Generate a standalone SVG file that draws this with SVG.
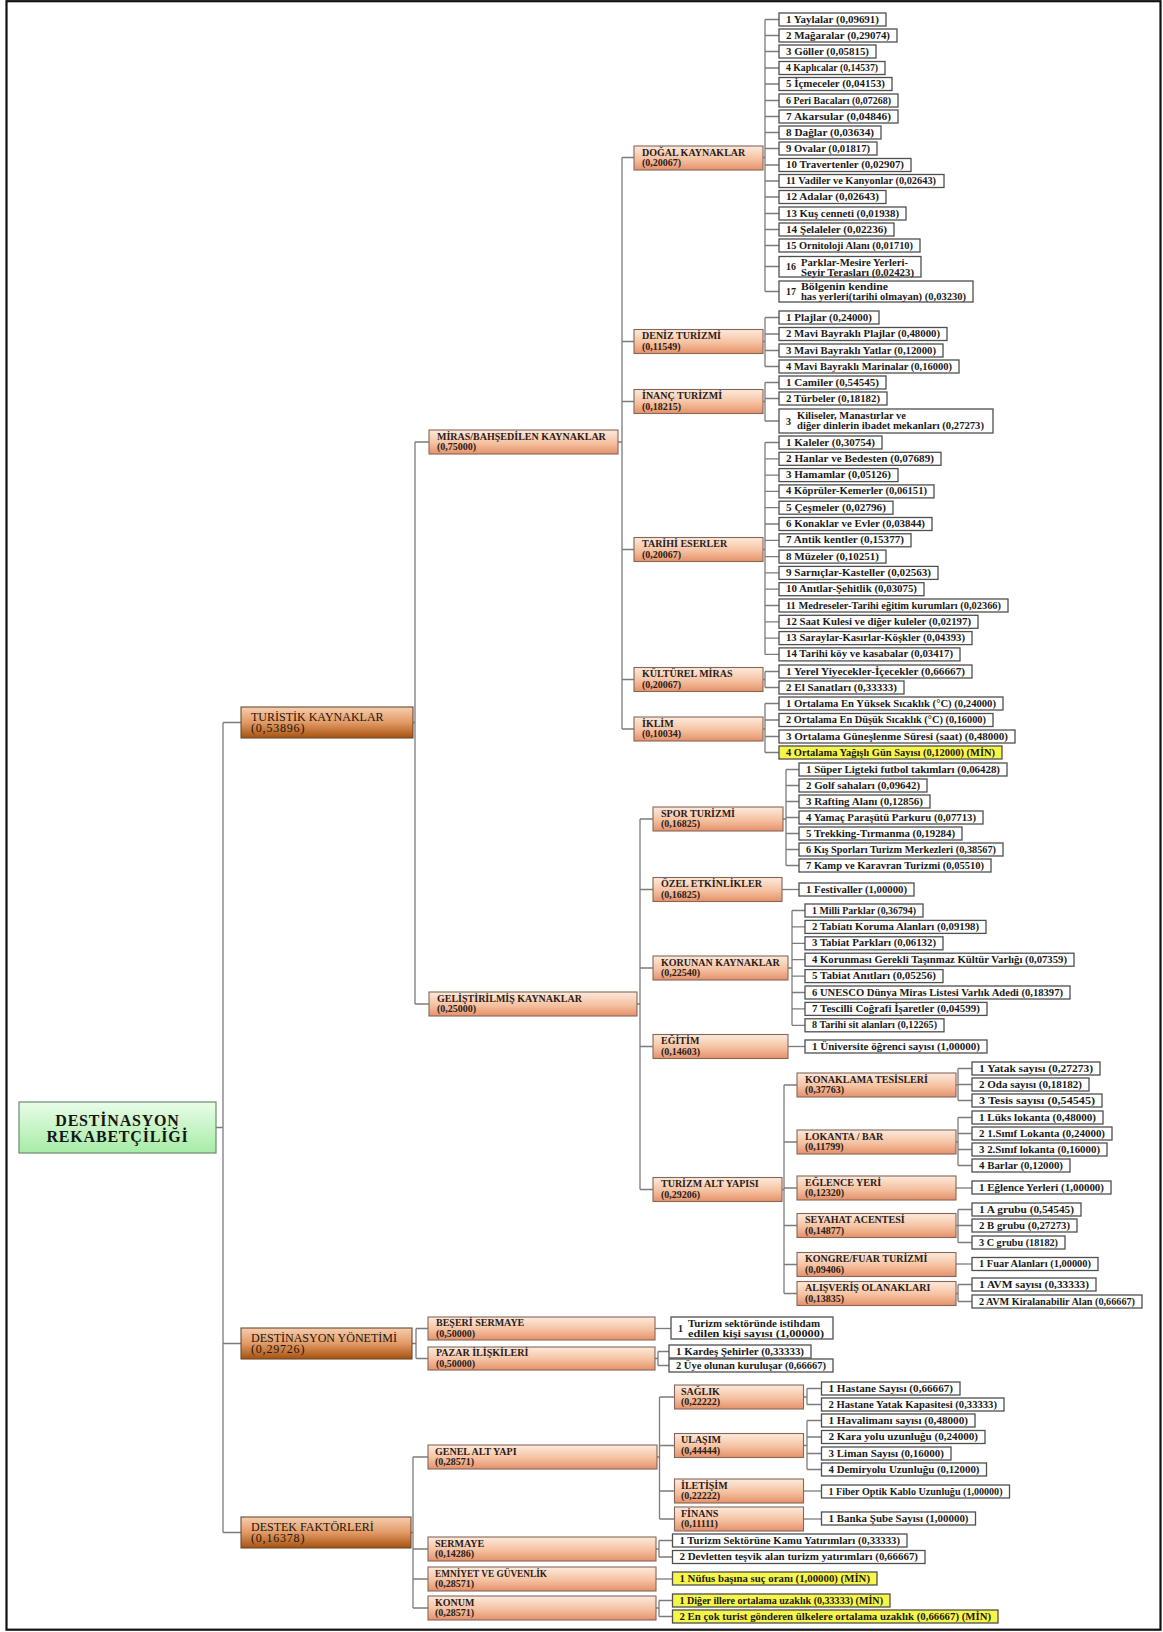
<svg xmlns="http://www.w3.org/2000/svg" width="1163" height="1632" viewBox="0 0 1163 1632" xml:space="preserve">
<defs>
<linearGradient id="gMid" x1="0" y1="0" x2="0" y2="1"><stop offset="0" stop-color="#fdeadc"/><stop offset="0.55" stop-color="#f5c1a0"/><stop offset="1" stop-color="#e5916a"/></linearGradient>
<linearGradient id="gTop" x1="0" y1="0" x2="0" y2="1"><stop offset="0" stop-color="#f6cdae"/><stop offset="0.5" stop-color="#e29a66"/><stop offset="1" stop-color="#a6520f"/></linearGradient>
<linearGradient id="gRoot" x1="0" y1="0" x2="0" y2="1"><stop offset="0" stop-color="#e8fde8"/><stop offset="1" stop-color="#a6eca6"/></linearGradient>
</defs>
<style>
text{font-family:"Liberation Serif","Times New Roman",serif;fill:#1c1a18}
.leaf rect{fill:#fff;stroke:#4f4f4f;stroke-width:1.3}
.leaf.min rect{fill:#f6f54a}
.leaf text{font-size:10px;font-weight:bold}
.mid rect{fill:url(#gMid);stroke:#86675a;stroke-width:1.1}
.mid text{font-size:10px;font-weight:bold;fill:#2a2019}
.top rect{fill:url(#gTop);stroke:#6b4a30;stroke-width:1.1}
.top text{font-size:12px;fill:#24160c}
.top text.w{letter-spacing:0.8px}
.root rect{fill:url(#gRoot);stroke:#6f8a6f;stroke-width:1.2}
.root text{font-size:16px;font-weight:bold;text-anchor:middle;letter-spacing:0.8px;fill:#161616}
.conn{fill:none;stroke:#7c7c7c;stroke-width:1.3}
</style>
<rect x="0" y="0" width="1163" height="1632" fill="#fff"/>
<rect x="6.5" y="1.2" width="1154" height="1628.5" fill="none" stroke="#111" stroke-width="2.2"/>

<g id="connectors" class="conn">
<path d="M216 1127.5H223M223 722.5V1532.5M223 722.5H241M223 1343.5H241M223 1532.5H241"/>
<path d="M413 722.5H415M415 442V1004M415 442H429M415 1004H429"/>
<path d="M618 442H622M622 157.5V729M622 157.5H634M622 341.5H634M622 401.5H634M622 549.5H634M622 679.5H634M622 729H634"/>
<path d="M637 1004H640M640 819V1189.5M640 819H653M640 889.5H653M640 968H653M640 1046.5H653M640 1189.5H653"/>
<path d="M763 157.5H765M765 19.5V291.5M765 19.5H779M765 35.5H779M765 51.5H779M765 68H779M765 84H779M765 100.5H779M765 116.5H779M765 132.5H779M765 148.5H779M765 165H779M765 181H779M765 197H779M765 213.5H779M765 229.5H779M765 245.5H779M765 266.5H779M765 291.5H779"/>
<path d="M763 341.5H765M765 317.5V366.5M765 317.5H779M765 334H779M765 350.5H779M765 366.5H779"/>
<path d="M763 401.5H765M765 382.5V421M765 382.5H779M765 398.5H779M765 421H779"/>
<path d="M763 549.5H765M765 442.5V654.4M765 442.5H779M765 458.8H779M765 475.1H779M765 491.4H779M765 507.7H779M765 524H779M765 540.3H779M765 556.6H779M765 572.9H779M765 589.2H779M765 605.5H779M765 621.8H779M765 638.1H779M765 654.4H779"/>
<path d="M763 679.5H765M765 671.5V687.5M765 671.5H779M765 687.5H779"/>
<path d="M763 729H765M765 703.5V752.5M765 703.5H779M765 720H779M765 736.5H779M765 752.5H779"/>
<path d="M783 819H786M786 769.5V865.5M786 769.5H799M786 785.5H799M786 801.5H799M786 817.5H799M786 833.5H799M786 849.5H799M786 865.5H799"/>
<path d="M782 889.5H799"/>
<path d="M788 968H792M792 910.5V1025.3M792 910.5H805M792 926.9H805M792 943.3H805M792 959.7H805M792 976.1H805M792 992.5H805M792 1008.9H805M792 1025.3H805"/>
<path d="M788 1046.5H805"/>
<path d="M782 1189.5H784M784 1085V1293.5M784 1085H797M784 1142H797M784 1188H797M784 1225.5H797M784 1264.5H797M784 1293.5H797"/>
<path d="M956 1085H958M958 1068.5V1100.5M958 1068.5H972M958 1084.5H972M958 1100.5H972"/>
<path d="M956 1142H958M958 1117.5V1165.5M958 1117.5H972M958 1133.5H972M958 1149.5H972M958 1165.5H972"/>
<path d="M956 1188H972"/>
<path d="M956 1225.5H958M958 1209.5V1242.5M958 1209.5H972M958 1225.5H972M958 1242.5H972"/>
<path d="M956 1264H972"/>
<path d="M956 1293.5H958M958 1284.5V1301.5M958 1284.5H972M958 1301.5H972"/>
<path d="M412 1343.5H416M416 1328.5V1358.5M416 1328.5H428M416 1358.5H428"/>
<path d="M655 1328.5H671"/>
<path d="M655 1358.5H658M658 1351.5V1365.5M658 1351.5H669M658 1365.5H669"/>
<path d="M411 1532.5H413M413 1457V1608M413 1457H428M413 1549H428M413 1579H428M413 1608H428"/>
<path d="M657 1457H659.5M659.5 1397V1519M659.5 1397H674.5M659.5 1445.5H674.5M659.5 1491H674.5M659.5 1519H674.5"/>
<path d="M803.5 1397H807M807 1388.5V1404.5M807 1388.5H821.5M807 1404.5H821.5"/>
<path d="M803.5 1445.5H807M807 1420.5V1469.5M807 1420.5H821.5M807 1437H821.5M807 1453.5H821.5M807 1469.5H821.5"/>
<path d="M803.5 1491H821.5"/>
<path d="M803.5 1519H821.5"/>
<path d="M656 1549H659M659 1540.5V1557M659 1540.5H672.5M659 1557H672.5"/>
<path d="M656 1579H672.5"/>
<path d="M656 1608H659M659 1600.5V1616.5M659 1600.5H672.5M659 1616.5H672.5"/>
</g>

<!-- root -->
<g id="n-root" class="root"><rect x="19" y="1102" width="197" height="51"/><text x="117.5" y="1126">DESTİNASYON</text><text x="117.5" y="1142">REKABETÇİLİĞİ</text></g>

<!-- main factors -->
<g id="n-turistik" class="top"><rect x="241" y="707" width="172" height="31"/><text x="251" y="721">TURİSTİK KAYNAKLAR</text><text class="w" x="251" y="732">(0,53896)</text></g>
<g id="n-yonetim" class="top"><rect x="241" y="1328" width="171" height="31"/><text x="251" y="1342">DESTİNASYON YÖNETİMİ</text><text class="w" x="251" y="1353">(0,29726)</text></g>
<g id="n-destek" class="top"><rect x="241" y="1517" width="170" height="31"/><text x="251" y="1531">DESTEK FAKTÖRLERİ</text><text class="w" x="251" y="1542">(0,16378)</text></g>

<!-- second level -->
<g id="n-miras" class="mid"><rect x="429" y="430" width="189" height="24"/><text x="437" y="439.5">MİRAS/BAHŞEDİLEN KAYNAKLAR</text><text x="437" y="450">(0,75000)</text></g>
<g id="n-gelistirilmis" class="mid"><rect x="429" y="992" width="208" height="24"/><text x="437" y="1001.5">GELİŞTİRİLMİŞ KAYNAKLAR</text><text x="437" y="1012">(0,25000)</text></g>
<g id="n-beseri" class="mid"><rect x="428" y="1317" width="227" height="23"/><text x="436" y="1326">BEŞERİ SERMAYE</text><text x="436" y="1336.5">(0,50000)</text></g>
<g id="n-pazar" class="mid"><rect x="428" y="1347" width="227" height="23"/><text x="436" y="1356">PAZAR İLİŞKİLERİ</text><text x="436" y="1366.5">(0,50000)</text></g>
<g id="n-genel" class="mid"><rect x="428" y="1445" width="229" height="24"/><text x="435" y="1454.5">GENEL ALT YAPI</text><text x="435" y="1465">(0,28571)</text></g>
<g id="n-sermaye" class="mid"><rect x="428" y="1537" width="228" height="24"/><text x="435" y="1546.5">SERMAYE</text><text x="435" y="1557">(0,14286)</text></g>
<g id="n-emniyet" class="mid"><rect x="428" y="1567" width="228" height="24"/><text x="435" y="1576.5" textLength="112" lengthAdjust="spacingAndGlyphs">EMNİYET VE GÜVENLİK</text><text x="435" y="1587">(0,28571)</text></g>
<g id="n-konum" class="mid"><rect x="428" y="1596" width="228" height="24"/><text x="435" y="1605.5">KONUM</text><text x="435" y="1616">(0,28571)</text></g>

<!-- third level -->
<g id="n-dogal" class="mid"><rect x="634" y="146" width="129" height="24"/><text x="642" y="155.5">DOĞAL KAYNAKLAR</text><text x="642" y="166">(0,20067)</text></g>
<g id="n-deniz" class="mid"><rect x="634" y="329.5" width="129" height="24"/><text x="642" y="339">DENİZ TURİZMİ</text><text x="642" y="349.5">(0,11549)</text></g>
<g id="n-inanc" class="mid"><rect x="634" y="389.5" width="129" height="24"/><text x="642" y="399">İNANÇ TURİZMİ</text><text x="642" y="409.5">(0,18215)</text></g>
<g id="n-tarihi" class="mid"><rect x="634" y="537.5" width="129" height="24"/><text x="642" y="547">TARİHİ ESERLER</text><text x="642" y="557.5">(0,20067)</text></g>
<g id="n-kulturel" class="mid"><rect x="634" y="667.5" width="129" height="24"/><text x="642" y="677">KÜLTÜREL MİRAS</text><text x="642" y="687.5">(0,20067)</text></g>
<g id="n-iklim" class="mid"><rect x="634" y="717" width="129" height="24"/><text x="642" y="726.5">İKLİM</text><text x="642" y="737">(0,10034)</text></g>
<g id="n-spor" class="mid"><rect x="653" y="807" width="130" height="24"/><text x="661" y="816.5">SPOR TURİZMİ</text><text x="661" y="827">(0,16825)</text></g>
<g id="n-ozel" class="mid"><rect x="653" y="877.5" width="129" height="24"/><text x="661" y="887">ÖZEL ETKİNLİKLER</text><text x="661" y="897.5">(0,16825)</text></g>
<g id="n-korunan" class="mid"><rect x="653" y="956" width="135" height="24"/><text x="661" y="965.5">KORUNAN KAYNAKLAR</text><text x="661" y="976">(0,22540)</text></g>
<g id="n-egitim" class="mid"><rect x="653" y="1034.5" width="135" height="24"/><text x="661" y="1044">EĞİTİM</text><text x="661" y="1054.5">(0,14603)</text></g>
<g id="n-altyapi" class="mid"><rect x="653" y="1177.5" width="129" height="24"/><text x="661" y="1187">TURİZM ALT YAPISI</text><text x="661" y="1197.5">(0,29206)</text></g>
<g id="n-saglik" class="mid"><rect x="674.5" y="1385" width="129" height="24"/><text x="681" y="1394.5">SAĞLIK</text><text x="681" y="1405">(0,22222)</text></g>
<g id="n-ulasim" class="mid"><rect x="674.5" y="1433.5" width="129" height="24"/><text x="681" y="1443">ULAŞIM</text><text x="681" y="1453.5">(0,44444)</text></g>
<g id="n-iletisim" class="mid"><rect x="674.5" y="1479" width="129" height="24"/><text x="681" y="1488.5">İLETİŞİM</text><text x="681" y="1499">(0,22222)</text></g>
<g id="n-finans" class="mid"><rect x="674.5" y="1507" width="129" height="24"/><text x="681" y="1516.5">FİNANS</text><text x="681" y="1527">(0,11111)</text></g>

<!-- fourth level -->
<g id="n-konaklama" class="mid"><rect x="797" y="1073" width="159" height="24"/><text x="805" y="1082.5">KONAKLAMA TESİSLERİ</text><text x="805" y="1093">(0,37763)</text></g>
<g id="n-lokanta" class="mid"><rect x="797" y="1130" width="159" height="24"/><text x="805" y="1139.5">LOKANTA / BAR</text><text x="805" y="1150">(0,11799)</text></g>
<g id="n-eglence" class="mid"><rect x="797" y="1176" width="159" height="24"/><text x="805" y="1185.5">EĞLENCE YERİ</text><text x="805" y="1196">(0,12320)</text></g>
<g id="n-seyahat" class="mid"><rect x="797" y="1213.5" width="159" height="24"/><text x="805" y="1223">SEYAHAT ACENTESİ</text><text x="805" y="1233.5">(0,14877)</text></g>
<g id="n-kongre" class="mid"><rect x="797" y="1252.5" width="159" height="24"/><text x="805" y="1262">KONGRE/FUAR TURİZMİ</text><text x="805" y="1272.5">(0,09406)</text></g>
<g id="n-alisveris" class="mid"><rect x="797" y="1281.5" width="159" height="24"/><text x="805" y="1291">ALIŞVERİŞ OLANAKLARI</text><text x="805" y="1301.5">(0,13835)</text></g>

<!-- indicators: natural resources -->
<g id="l-dogal-1" class="leaf"><rect x="779" y="13" width="107" height="13"/><text x="786" y="22.5" textLength="93" lengthAdjust="spacingAndGlyphs">1  Yaylalar  (0,09691)</text></g>
<g id="l-dogal-2" class="leaf"><rect x="779" y="29" width="118" height="13"/><text x="786" y="38.5" textLength="104" lengthAdjust="spacingAndGlyphs">2  Mağaralar  (0,29074)</text></g>
<g id="l-dogal-3" class="leaf"><rect x="779" y="45" width="97" height="13"/><text x="786" y="54.5" textLength="83" lengthAdjust="spacingAndGlyphs">3  Göller  (0,05815)</text></g>
<g id="l-dogal-4" class="leaf"><rect x="779" y="61.5" width="106" height="13"/><text x="786" y="71" textLength="92" lengthAdjust="spacingAndGlyphs">4  Kaplıcalar (0,14537)</text></g>
<g id="l-dogal-5" class="leaf"><rect x="779" y="77.5" width="113" height="13"/><text x="786" y="87" textLength="99" lengthAdjust="spacingAndGlyphs">5  İçmeceler (0,04153)</text></g>
<g id="l-dogal-6" class="leaf"><rect x="779" y="94" width="119" height="13"/><text x="786" y="103.5" textLength="105" lengthAdjust="spacingAndGlyphs">6  Peri Bacaları  (0,07268)</text></g>
<g id="l-dogal-7" class="leaf"><rect x="779" y="110" width="119" height="13"/><text x="786" y="119.5" textLength="105" lengthAdjust="spacingAndGlyphs">7  Akarsular  (0,04846)</text></g>
<g id="l-dogal-8" class="leaf"><rect x="779" y="126" width="102" height="13"/><text x="786" y="135.5" textLength="88" lengthAdjust="spacingAndGlyphs">8  Dağlar  (0,03634)</text></g>
<g id="l-dogal-9" class="leaf"><rect x="779" y="142" width="98" height="13"/><text x="786" y="151.5" textLength="84" lengthAdjust="spacingAndGlyphs">9  Ovalar  (0,01817)</text></g>
<g id="l-dogal-10" class="leaf"><rect x="779" y="158.5" width="132" height="13"/><text x="786" y="168" textLength="118" lengthAdjust="spacingAndGlyphs">10  Travertenler  (0,02907)</text></g>
<g id="l-dogal-11" class="leaf"><rect x="779" y="174.5" width="165" height="13"/><text x="786" y="184" textLength="150" lengthAdjust="spacingAndGlyphs">11  Vadiler ve Kanyonlar  (0,02643)</text></g>
<g id="l-dogal-12" class="leaf"><rect x="779" y="190.5" width="107" height="13"/><text x="786" y="200" textLength="93" lengthAdjust="spacingAndGlyphs">12  Adalar  (0,02643)</text></g>
<g id="l-dogal-13" class="leaf"><rect x="779" y="207" width="127" height="13"/><text x="786" y="216.5" textLength="113" lengthAdjust="spacingAndGlyphs">13  Kuş cenneti (0,01938)</text></g>
<g id="l-dogal-14" class="leaf"><rect x="779" y="223" width="115" height="13"/><text x="786" y="232.5" textLength="101" lengthAdjust="spacingAndGlyphs">14  Şelaleler  (0,02236)</text></g>
<g id="l-dogal-15" class="leaf"><rect x="779" y="239" width="141" height="13"/><text x="786" y="248.5" textLength="127" lengthAdjust="spacingAndGlyphs">15  Ornitoloji Alanı  (0,01710)</text></g>
<g id="l-dogal-16" class="leaf"><rect x="779" y="256.5" width="142" height="20.5"/><text x="786" y="270">16</text><text x="801" y="265.5" textLength="107" lengthAdjust="spacingAndGlyphs">Parklar-Mesire Yerleri-</text><text x="801" y="275.5" textLength="113" lengthAdjust="spacingAndGlyphs">Seyir Terasları  (0,02423)</text></g>
<g id="l-dogal-17" class="leaf"><rect x="779" y="281" width="194" height="21"/><text x="786" y="295">17</text><text x="801" y="290" textLength="87" lengthAdjust="spacingAndGlyphs">Bölgenin kendine</text><text x="801" y="300" textLength="165" lengthAdjust="spacingAndGlyphs">has yerleri(tarihi olmayan)  (0,03230)</text></g>

<!-- indicators: sea tourism -->
<g id="l-deniz-1" class="leaf"><rect x="779" y="311" width="100" height="13"/><text x="786" y="320.5" textLength="86" lengthAdjust="spacingAndGlyphs">1  Plajlar  (0,24000)</text></g>
<g id="l-deniz-2" class="leaf"><rect x="779" y="327.5" width="168" height="13"/><text x="786" y="337" textLength="154" lengthAdjust="spacingAndGlyphs">2  Mavi Bayraklı Plajlar  (0,48000)</text></g>
<g id="l-deniz-3" class="leaf"><rect x="779" y="344" width="164" height="13"/><text x="786" y="353.5" textLength="150" lengthAdjust="spacingAndGlyphs">3  Mavi Bayraklı Yatlar  (0,12000)</text></g>
<g id="l-deniz-4" class="leaf"><rect x="779" y="360" width="180" height="13"/><text x="786" y="369.5" textLength="166" lengthAdjust="spacingAndGlyphs">4  Mavi Bayraklı Marinalar  (0,16000)</text></g>

<!-- indicators: faith tourism -->
<g id="l-inanc-1" class="leaf"><rect x="779" y="376" width="107" height="13"/><text x="786" y="385.5" textLength="93" lengthAdjust="spacingAndGlyphs">1  Camiler  (0,54545)</text></g>
<g id="l-inanc-2" class="leaf"><rect x="779" y="392" width="108" height="13"/><text x="786" y="401.5" textLength="94" lengthAdjust="spacingAndGlyphs">2  Türbeler  (0,18182)</text></g>
<g id="l-inanc-3" class="leaf"><rect x="779" y="409" width="214" height="24"/><text x="786" y="424.5">3</text><text x="797" y="418.5" textLength="109" lengthAdjust="spacingAndGlyphs">Kiliseler, Manastırlar ve</text><text x="797" y="429" textLength="187" lengthAdjust="spacingAndGlyphs">diğer dinlerin ibadet mekanları  (0,27273)</text></g>

<!-- indicators: historic works -->
<g id="l-tarihi-1" class="leaf"><rect x="779" y="436" width="103" height="13"/><text x="786" y="445.5" textLength="89" lengthAdjust="spacingAndGlyphs">1  Kaleler  (0,30754)</text></g>
<g id="l-tarihi-2" class="leaf"><rect x="779" y="452.3" width="162" height="13"/><text x="786" y="461.8" textLength="148" lengthAdjust="spacingAndGlyphs">2  Hanlar ve Bedesten  (0,07689)</text></g>
<g id="l-tarihi-3" class="leaf"><rect x="779" y="468.6" width="119" height="13"/><text x="786" y="478.1" textLength="105" lengthAdjust="spacingAndGlyphs">3  Hamamlar  (0,05126)</text></g>
<g id="l-tarihi-4" class="leaf"><rect x="779" y="484.9" width="155" height="13"/><text x="786" y="494.4" textLength="141" lengthAdjust="spacingAndGlyphs">4  Köprüler-Kemerler  (0,06151)</text></g>
<g id="l-tarihi-5" class="leaf"><rect x="779" y="501.2" width="114" height="13"/><text x="786" y="510.7" textLength="100" lengthAdjust="spacingAndGlyphs">5  Çeşmeler  (0,02796)</text></g>
<g id="l-tarihi-6" class="leaf"><rect x="779" y="517.5" width="153" height="13"/><text x="786" y="527" textLength="139" lengthAdjust="spacingAndGlyphs">6  Konaklar ve Evler  (0,03844)</text></g>
<g id="l-tarihi-7" class="leaf"><rect x="779" y="533.8" width="132" height="13"/><text x="786" y="543.3" textLength="118" lengthAdjust="spacingAndGlyphs">7  Antik kentler  (0,15377)</text></g>
<g id="l-tarihi-8" class="leaf"><rect x="779" y="550.1" width="107" height="13"/><text x="786" y="559.6" textLength="93" lengthAdjust="spacingAndGlyphs">8  Müzeler  (0,10251)</text></g>
<g id="l-tarihi-9" class="leaf"><rect x="779" y="566.4" width="159" height="13"/><text x="786" y="575.9" textLength="145" lengthAdjust="spacingAndGlyphs">9  Sarnıçlar-Kasteller  (0,02563)</text></g>
<g id="l-tarihi-10" class="leaf"><rect x="779" y="582.7" width="145" height="13"/><text x="786" y="592.2" textLength="131" lengthAdjust="spacingAndGlyphs">10  Anıtlar-Şehitlik (0,03075)</text></g>
<g id="l-tarihi-11" class="leaf"><rect x="779" y="599" width="229" height="13"/><text x="786" y="608.5" textLength="215" lengthAdjust="spacingAndGlyphs">11  Medreseler-Tarihi eğitim kurumları  (0,02366)</text></g>
<g id="l-tarihi-12" class="leaf"><rect x="779" y="615.3" width="199" height="13"/><text x="786" y="624.8" textLength="185" lengthAdjust="spacingAndGlyphs">12  Saat Kulesi ve diğer kuleler  (0,02197)</text></g>
<g id="l-tarihi-13" class="leaf"><rect x="779" y="631.6" width="193" height="13"/><text x="786" y="641.1" textLength="179" lengthAdjust="spacingAndGlyphs">13  Saraylar-Kasırlar-Köşkler  (0,04393)</text></g>
<g id="l-tarihi-14" class="leaf"><rect x="779" y="647.9" width="181" height="13"/><text x="786" y="657.4" textLength="167" lengthAdjust="spacingAndGlyphs">14  Tarihi köy ve kasabalar  (0,03417)</text></g>

<!-- indicators: cultural heritage -->
<g id="l-kulturel-1" class="leaf"><rect x="779" y="665" width="193" height="13"/><text x="786" y="674.5" textLength="179" lengthAdjust="spacingAndGlyphs">1  Yerel Yiyecekler-İçecekler  (0,66667)</text></g>
<g id="l-kulturel-2" class="leaf"><rect x="779" y="681" width="125" height="13"/><text x="786" y="690.5" textLength="111" lengthAdjust="spacingAndGlyphs">2  El Sanatları  (0,33333)</text></g>

<!-- indicators: climate -->
<g id="l-iklim-1" class="leaf"><rect x="779" y="697" width="224" height="13"/><text x="786" y="706.5" textLength="210" lengthAdjust="spacingAndGlyphs">1  Ortalama En Yüksek Sıcaklık (°C)  (0,24000)</text></g>
<g id="l-iklim-2" class="leaf"><rect x="779" y="713.5" width="214" height="13"/><text x="786" y="723" textLength="200" lengthAdjust="spacingAndGlyphs">2  Ortalama En Düşük Sıcaklık (°C)   (0,16000)</text></g>
<g id="l-iklim-3" class="leaf"><rect x="779" y="730" width="236" height="13"/><text x="786" y="739.5" textLength="222" lengthAdjust="spacingAndGlyphs">3  Ortalama Güneşlenme Süresi (saat)  (0,48000)</text></g>
<g id="l-iklim-4" class="leaf min"><rect x="779" y="746" width="223" height="13"/><text x="786" y="755.5" textLength="209" lengthAdjust="spacingAndGlyphs">4  Ortalama Yağışlı Gün Sayısı (0,12000) (MİN)</text></g>

<!-- indicators: sports tourism -->
<g id="l-spor-1" class="leaf"><rect x="799" y="763" width="208" height="13"/><text x="806" y="772.5" textLength="194" lengthAdjust="spacingAndGlyphs">1  Süper Ligteki futbol takımları  (0,06428)</text></g>
<g id="l-spor-2" class="leaf"><rect x="799" y="779" width="128" height="13"/><text x="806" y="788.5" textLength="114" lengthAdjust="spacingAndGlyphs">2  Golf sahaları (0,09642)</text></g>
<g id="l-spor-3" class="leaf"><rect x="799" y="795" width="131" height="13"/><text x="806" y="804.5" textLength="117" lengthAdjust="spacingAndGlyphs">3  Rafting Alanı  (0,12856)</text></g>
<g id="l-spor-4" class="leaf"><rect x="799" y="811" width="184" height="13"/><text x="806" y="820.5" textLength="170" lengthAdjust="spacingAndGlyphs">4  Yamaç Paraşütü Parkuru  (0,07713)</text></g>
<g id="l-spor-5" class="leaf"><rect x="799" y="827" width="163" height="13"/><text x="806" y="836.5" textLength="149" lengthAdjust="spacingAndGlyphs">5  Trekking-Tırmanma  (0,19284)</text></g>
<g id="l-spor-6" class="leaf"><rect x="799" y="843" width="204" height="13"/><text x="806" y="852.5" textLength="190" lengthAdjust="spacingAndGlyphs">6  Kış Sporları Turizm Merkezleri  (0,38567)</text></g>
<g id="l-spor-7" class="leaf"><rect x="799" y="859" width="192" height="13"/><text x="806" y="868.5" textLength="178" lengthAdjust="spacingAndGlyphs">7  Kamp ve Karavran Turizmi  (0,05510)</text></g>

<g id="l-ozel-1" class="leaf"><rect x="799" y="883" width="115" height="13"/><text x="806" y="892.5" textLength="101" lengthAdjust="spacingAndGlyphs">1  Festivaller (1,00000)</text></g>

<!-- indicators: protected resources -->
<g id="l-korunan-1" class="leaf"><rect x="805" y="904" width="118" height="13"/><text x="812" y="913.5" textLength="104" lengthAdjust="spacingAndGlyphs">1  Milli Parklar  (0,36794)</text></g>
<g id="l-korunan-2" class="leaf"><rect x="805" y="920.4" width="181" height="13"/><text x="812" y="929.9" textLength="167" lengthAdjust="spacingAndGlyphs">2  Tabiatı Koruma Alanları  (0,09198)</text></g>
<g id="l-korunan-3" class="leaf"><rect x="805" y="936.8" width="138" height="13"/><text x="812" y="946.3" textLength="124" lengthAdjust="spacingAndGlyphs">3  Tabiat Parkları  (0,06132)</text></g>
<g id="l-korunan-4" class="leaf"><rect x="805" y="953.2" width="269" height="13"/><text x="812" y="962.7" textLength="255" lengthAdjust="spacingAndGlyphs">4  Korunması Gerekli Taşınmaz Kültür Varlığı  (0,07359)</text></g>
<g id="l-korunan-5" class="leaf"><rect x="805" y="969.6" width="138" height="13"/><text x="812" y="979.1" textLength="124" lengthAdjust="spacingAndGlyphs">5  Tabiat Anıtları  (0,05256)</text></g>
<g id="l-korunan-6" class="leaf"><rect x="805" y="986" width="265" height="13"/><text x="812" y="995.5" textLength="251" lengthAdjust="spacingAndGlyphs">6  UNESCO Dünya Miras Listesi Varlık Adedi  (0,18397)</text></g>
<g id="l-korunan-7" class="leaf"><rect x="805" y="1002.4" width="182" height="13"/><text x="812" y="1011.9" textLength="168" lengthAdjust="spacingAndGlyphs">7  Tescilli Coğrafi İşaretler  (0,04599)</text></g>
<g id="l-korunan-8" class="leaf"><rect x="805" y="1018.8" width="139" height="13"/><text x="812" y="1028.3" textLength="125" lengthAdjust="spacingAndGlyphs">8  Tarihi sit alanları  (0,12265)</text></g>

<g id="l-egitim-1" class="leaf"><rect x="805" y="1040" width="182" height="13"/><text x="812" y="1049.5" textLength="168" lengthAdjust="spacingAndGlyphs">1  Üniversite öğrenci sayısı  (1,00000)</text></g>

<!-- indicators: tourism infrastructure -->
<g id="l-konaklama-1" class="leaf"><rect x="972" y="1062" width="128" height="13"/><text x="979" y="1071.5" textLength="114" lengthAdjust="spacingAndGlyphs">1  Yatak sayısı  (0,27273)</text></g>
<g id="l-konaklama-2" class="leaf"><rect x="972" y="1078" width="117" height="13"/><text x="979" y="1087.5" textLength="103" lengthAdjust="spacingAndGlyphs">2  Oda sayısı  (0,18182)</text></g>
<g id="l-konaklama-3" class="leaf"><rect x="972" y="1094" width="130" height="13"/><text x="979" y="1103.5" textLength="116" lengthAdjust="spacingAndGlyphs">3  Tesis sayısı  (0,54545)</text></g>
<g id="l-lokanta-1" class="leaf"><rect x="972" y="1111" width="131" height="13"/><text x="979" y="1120.5" textLength="117" lengthAdjust="spacingAndGlyphs">1  Lüks lokanta  (0,48000)</text></g>
<g id="l-lokanta-2" class="leaf"><rect x="972" y="1127" width="140" height="13"/><text x="979" y="1136.5" textLength="126" lengthAdjust="spacingAndGlyphs">2  1.Sınıf Lokanta  (0,24000)</text></g>
<g id="l-lokanta-3" class="leaf"><rect x="972" y="1143" width="135" height="13"/><text x="979" y="1152.5" textLength="121" lengthAdjust="spacingAndGlyphs">3  2.Sınıf lokanta (0,16000)</text></g>
<g id="l-lokanta-4" class="leaf"><rect x="972" y="1159" width="98" height="13"/><text x="979" y="1168.5" textLength="84" lengthAdjust="spacingAndGlyphs">4  Barlar  (0,12000)</text></g>
<g id="l-eglence-1" class="leaf"><rect x="972" y="1181" width="139" height="13"/><text x="979" y="1190.5" textLength="125" lengthAdjust="spacingAndGlyphs">1  Eğlence Yerleri  (1,00000)</text></g>
<g id="l-seyahat-1" class="leaf"><rect x="972" y="1203" width="109" height="13"/><text x="979" y="1212.5" textLength="95" lengthAdjust="spacingAndGlyphs">1  A grubu  (0,54545)</text></g>
<g id="l-seyahat-2" class="leaf"><rect x="972" y="1219" width="105" height="13"/><text x="979" y="1228.5" textLength="91" lengthAdjust="spacingAndGlyphs">2  B grubu (0,27273)</text></g>
<g id="l-seyahat-3" class="leaf"><rect x="972" y="1236" width="93" height="13"/><text x="979" y="1245.5" textLength="79" lengthAdjust="spacingAndGlyphs">3  C grubu (18182)</text></g>
<g id="l-kongre-1" class="leaf"><rect x="972" y="1257.5" width="126" height="13"/><text x="979" y="1267" textLength="112" lengthAdjust="spacingAndGlyphs">1  Fuar Alanları (1,00000)</text></g>
<g id="l-alisveris-1" class="leaf"><rect x="972" y="1278" width="124" height="13"/><text x="979" y="1287.5" textLength="110" lengthAdjust="spacingAndGlyphs">1  AVM sayısı  (0,33333)</text></g>
<g id="l-alisveris-2" class="leaf"><rect x="972" y="1295" width="170" height="13"/><text x="979" y="1304.5" textLength="156" lengthAdjust="spacingAndGlyphs">2  AVM Kiralanabilir Alan  (0,66667)</text></g>

<!-- indicators: destination management -->
<g id="l-beseri-1" class="leaf"><rect x="671" y="1317" width="162" height="22"/><text x="678" y="1331.5">1</text><text x="688" y="1326.5" textLength="132" lengthAdjust="spacingAndGlyphs">Turizm sektöründe istihdam</text><text x="688" y="1336.5" textLength="136" lengthAdjust="spacingAndGlyphs">edilen kişi sayısı  (1,00000)</text></g>
<g id="l-pazar-1" class="leaf"><rect x="669" y="1345" width="142" height="13"/><text x="676" y="1354.5" textLength="128" lengthAdjust="spacingAndGlyphs">1  Kardeş Şehirler  (0,33333)</text></g>
<g id="l-pazar-2" class="leaf"><rect x="669" y="1359" width="164" height="13"/><text x="676" y="1368.5" textLength="150" lengthAdjust="spacingAndGlyphs">2  Üye olunan kuruluşar  (0,66667)</text></g>

<!-- indicators: support factors -->
<g id="l-saglik-1" class="leaf"><rect x="821.5" y="1382" width="138.5" height="13"/><text x="828.5" y="1391.5" textLength="124.5" lengthAdjust="spacingAndGlyphs">1  Hastane Sayısı  (0,66667)</text></g>
<g id="l-saglik-2" class="leaf"><rect x="821.5" y="1398" width="182.5" height="13"/><text x="828.5" y="1407.5" textLength="168.5" lengthAdjust="spacingAndGlyphs">2  Hastane Yatak Kapasitesi  (0,33333)</text></g>
<g id="l-ulasim-1" class="leaf"><rect x="821.5" y="1414" width="153.5" height="13"/><text x="828.5" y="1423.5" textLength="139.5" lengthAdjust="spacingAndGlyphs">1  Havalimanı sayısı  (0,48000)</text></g>
<g id="l-ulasim-2" class="leaf"><rect x="821.5" y="1430.5" width="163.5" height="13"/><text x="828.5" y="1440" textLength="149.5" lengthAdjust="spacingAndGlyphs">2  Kara yolu uzunluğu  (0,24000)</text></g>
<g id="l-ulasim-3" class="leaf"><rect x="821.5" y="1447" width="129.5" height="13"/><text x="828.5" y="1456.5" textLength="115.5" lengthAdjust="spacingAndGlyphs">3  Liman Sayısı  (0,16000)</text></g>
<g id="l-ulasim-4" class="leaf"><rect x="821.5" y="1463" width="165" height="13"/><text x="828.5" y="1472.5" textLength="151" lengthAdjust="spacingAndGlyphs">4  Demiryolu Uzunluğu  (0,12000)</text></g>
<g id="l-iletisim-1" class="leaf"><rect x="821.5" y="1485" width="188" height="13"/><text x="828.5" y="1494.5" textLength="174" lengthAdjust="spacingAndGlyphs">1  Fiber Optik Kablo Uzunluğu  (1,00000)</text></g>
<g id="l-finans-1" class="leaf"><rect x="821.5" y="1512" width="154" height="13"/><text x="828.5" y="1521.5" textLength="140" lengthAdjust="spacingAndGlyphs">1  Banka Şube Sayısı  (1,00000)</text></g>
<g id="l-sermaye-1" class="leaf"><rect x="672.5" y="1534" width="234.5" height="13"/><text x="679.5" y="1543.5" textLength="220.5" lengthAdjust="spacingAndGlyphs">1  Turizm Sektörüne Kamu Yatırımları  (0,33333)</text></g>
<g id="l-sermaye-2" class="leaf"><rect x="672.5" y="1550.5" width="252.5" height="13"/><text x="679.5" y="1560" textLength="238.5" lengthAdjust="spacingAndGlyphs">2  Devletten teşvik alan turizm yatırımları  (0,66667)</text></g>
<g id="l-emniyet-1" class="leaf min"><rect x="672.5" y="1572" width="204.5" height="13"/><text x="679.5" y="1581.5" textLength="190.5" lengthAdjust="spacingAndGlyphs">1  Nüfus başına suç oranı   (1,00000) (MİN)</text></g>
<g id="l-konum-1" class="leaf min"><rect x="672.5" y="1594" width="217.5" height="13"/><text x="679.5" y="1603.5" textLength="203.5" lengthAdjust="spacingAndGlyphs">1  Diğer illere ortalama uzaklık  (0,33333) (MİN)</text></g>
<g id="l-konum-2" class="leaf min"><rect x="672.5" y="1610" width="325.5" height="13"/><text x="679.5" y="1619.5" textLength="311.5" lengthAdjust="spacingAndGlyphs">2  En çok turist gönderen ülkelere ortalama uzaklık   (0,66667) (MİN)</text></g>
</svg>
